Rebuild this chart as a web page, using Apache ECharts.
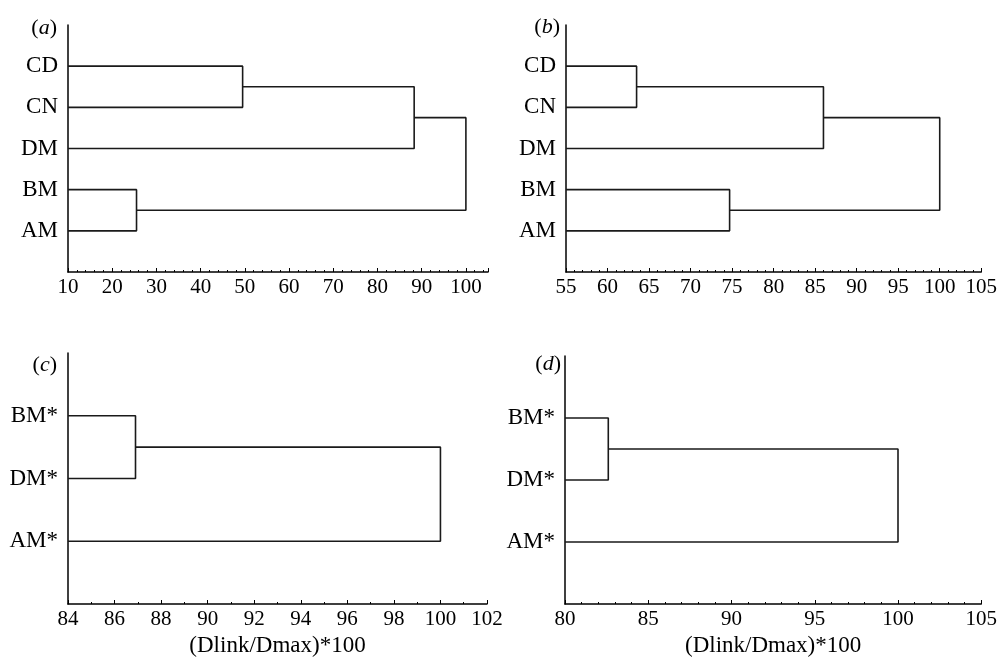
<!DOCTYPE html>
<html>
<head>
<meta charset="utf-8">
<script src="https://cdn.jsdelivr.net/npm/echarts@6/dist/echarts.min.js"></script>
<style>
html,body{margin:0;padding:0;background:#fff;}
#chart{width:1000px;height:658px;}
</style>
</head>
<body>
<div id="chart"></div>
<script>
// ---- Data ----
// leaves listed top to bottom
const leavesA = ['CD', 'CN', 'DM', 'BM', 'AM'];
// merges: [childA, childB, height]; indices >= leaves.length refer to earlier merges
const mergesA = [[0, 1, 49.5], [5, 2, 88.3], [3, 4, 25.5], [6, 7, 100]];
const ticksA = { min: 10, max: 105, interval: 10, minorSplit: 5 };

const leavesB = ['CD', 'CN', 'DM', 'BM', 'AM'];
const mergesB = [[0, 1, 63.5], [5, 2, 86.0], [3, 4, 74.7], [6, 7, 100]];
const ticksB = { min: 55, max: 105, interval: 5, minorSplit: 5 };

const leavesC = ['BM*', 'DM*', 'AM*'];
const mergesC = [[0, 1, 86.9], [3, 2, 100]];
const ticksC = { min: 84, max: 102, interval: 2, minorSplit: 2 };

const leavesD = ['BM*', 'DM*', 'AM*'];
const mergesD = [[0, 1, 82.6], [3, 2, 100]];
const ticksD = { min: 80, max: 105, interval: 5, minorSplit: 5 };

const panelLetters = ['a', 'b', 'c', 'd'];
const xTitle = '(Dlink/Dmax)*100';

// ---- Layout ----
const grids = [
  { left: 68, top: 25, width: 420, height: 247 },
  { left: 566, top: 25, width: 417, height: 247 },
  { left: 68, top: 353, width: 419, height: 254 },
  { left: 565, top: 356, width: 417, height: 250 }
];
const letterPos = [[57, 28], [560, 27], [57, 365], [561, 364]];
const FONT = '"Liberation Serif", "Times New Roman", serif';
const panels = [
  { leaves: leavesA, merges: mergesA, ticks: ticksA, title: false },
  { leaves: leavesB, merges: mergesB, ticks: ticksB, title: false },
  { leaves: leavesC, merges: mergesC, ticks: ticksC, title: true },
  { leaves: leavesD, merges: mergesD, ticks: ticksD, title: true }
];

const xAxes = [], yAxes = [], series = [], graphics = [];
panels.forEach((p, gi) => {
  const n = p.leaves.length;
  const posName = {};
  const nodes = p.leaves.map((name, i) => {
    posName[n - i] = name;
    return { x: p.ticks.min, y: n - i };
  });
  p.merges.forEach(m => {
    const a = nodes[m[0]], b = nodes[m[1]], h = m[2];
    series.push({
      type: 'line', xAxisIndex: gi, yAxisIndex: gi,
      data: [[a.x, a.y], [h, a.y], [h, b.y], [b.x, b.y]],
      showSymbol: false, symbol: 'none', animation: false, silent: true,
      lineStyle: { color: '#1a1a1a', width: 1.6 }, z: 1
    });
    nodes.push({ x: h, y: (a.y + b.y) / 2 });
  });
  const t = p.ticks;
  xAxes.push({
    type: 'value', gridIndex: gi, min: t.min, max: t.max, interval: t.interval,
    axisLine: { show: true, onZero: false, lineStyle: { color: '#000', width: 1.5 } },
    axisTick: { show: true, inside: true, length: 4, lineStyle: { color: '#000', width: 1 } },
    minorTick: { show: true, splitNumber: t.minorSplit, length: 2, lineStyle: { color: '#000', width: 1 } },
    splitLine: { show: false },
    axisLabel: {
      fontFamily: FONT, fontSize: 21, color: '#000', margin: 5,
      formatter: v => ((v - t.min) % t.interval === 0 ? String(v) : '')
    },
    name: p.title ? xTitle : '', nameLocation: 'middle', nameGap: 30,
    nameTextStyle: { fontFamily: FONT, fontSize: 23, color: '#000' }
  });
  yAxes.push({
    type: 'value', gridIndex: gi, min: 0, max: n + 1, interval: 1,
    axisLine: { show: true, onZero: false, lineStyle: { color: '#000', width: 1.5 } },
    axisTick: { show: false }, splitLine: { show: false },
    axisLabel: {
      fontFamily: FONT, fontSize: 23, color: '#000', margin: 10,
      formatter: v => posName[v] || ''
    }
  });
  graphics.push({
    type: 'text', x: letterPos[gi][0], y: letterPos[gi][1],
    style: {
      text: '{n|(}{i|' + panelLetters[gi] + '}{n|)}',
      align: 'right', verticalAlign: 'middle',
      rich: {
        n: { fontFamily: FONT, fontSize: 22, fill: '#000' },
        i: { fontFamily: FONT, fontSize: 22, fontStyle: 'italic', fill: '#000' }
      }
    }
  });
});

const chart = echarts.init(document.getElementById('chart'), null, { renderer: 'canvas' });
chart.setOption({
  backgroundColor: '#fff',
  animation: false,
  grid: grids,
  xAxis: xAxes,
  yAxis: yAxes,
  series: series,
  graphic: graphics
});
</script>
</body>
</html>
